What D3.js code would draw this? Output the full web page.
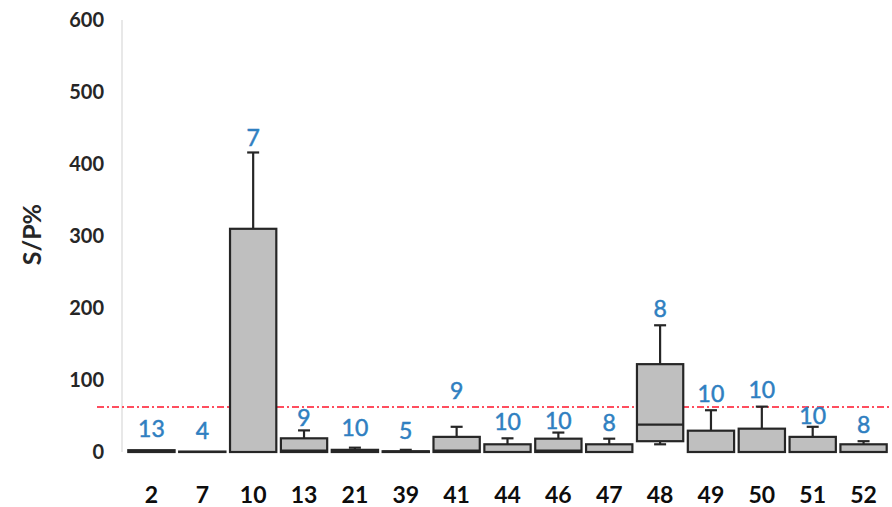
<!DOCTYPE html>
<html>
<head>
<meta charset="utf-8">
<script src="https://d3js.org/d3.v7.min.js"></script>
<style>
  body { margin: 0; background: #fff; }
  svg { display: block; }
</style>
</head>
<body>
<div id="chart"></div>
<script>
// groups on the x axis
const groups = ["2", "7", "10", "13", "21", "39", "41", "44", "46", "47", "48", "49", "50", "51", "52"];
// box plot values (S/P%)
const q1     = [0, 0, 0, 0, 0, 0, 0, 0, 0, 0, 15, 0, 0, 0, 0];
const median = [1, 0, 0, 1.8, 1.5, 0.5, 1.8, 0, 1.8, 0, 38, 0, 0, 0, 0];
const q3     = [2.5, 0.6, 310, 19, 3, 1, 21, 10.7, 18.5, 10.7, 122, 29.6, 32.4, 21, 10.7];
const whiskHi = [2.5, 0.6, 416, 30, 6, 3, 35, 19, 27, 18.5, 176, 58, 63, 35, 15];
const whiskLo = [0, 0, 0, 0, 0, 0, 0, 0, 0, 0, 10.7, 0, 0, 0, 0];
// sample counts shown in blue and the level where each sits
const counts  = [13, 4, 7, 9, 10, 5, 9, 10, 10, 8, 8, 10, 10, 10, 8];
const countAt = [21, 18.5, 425, 36, 22, 18, 74, 30.5, 32, 29.6, 187.5, 70, 75.4, 39, 26.4];
// cutoff line
const cutoff = 62.5;
const yTicks = [0, 100, 200, 300, 400, 500, 600];

const width = 892, height = 507;

const svg = d3.select("#chart")
  .append("svg")
    .attr("width", width)
    .attr("height", height);

const x = d3.scaleBand()
  .domain(groups)
  .range([126, 889])
  .paddingInner(0.09)
  .paddingOuter(0.045);

const y = d3.scaleLinear()
  .domain([0, 600])
  .range([452, 20]);

// y axis line
svg.append("line")
  .attr("x1", 122).attr("x2", 122)
  .attr("y1", y(600)).attr("y2", y(0))
  .attr("stroke", "#d9d9d9")
  .attr("stroke-width", 1.2);

// y tick labels
svg.append("g")
  .selectAll("text")
  .data(yTicks)
  .enter()
  .append("text")
    .attr("x", 104)
    .attr("y", d => y(d))
    .attr("dy", "0.36em")
    .attr("text-anchor", "end")
    .style("font-family", "Lato, 'Open Sans', sans-serif")
    .style("font-weight", "bold")
    .style("font-size", "20px")
    .style("fill", "#262626")
    .text(d => d);

// y axis title
svg.append("text")
  .attr("transform", `translate(41, ${y(302)}) rotate(-90)`)
  .attr("text-anchor", "middle")
  .style("font-family", "Lato, 'Open Sans', sans-serif")
  .style("font-weight", "bold")
  .style("font-size", "25px")
  .style("fill", "#262626")
  .text("S/P%");

// x labels
svg.append("g")
  .selectAll("text")
  .data(groups)
  .enter()
  .append("text")
    .attr("x", d => x(d) + x.bandwidth() / 2)
    .attr("y", 503)
    .attr("text-anchor", "middle")
    .style("font-family", "Lato, 'Open Sans', sans-serif")
    .style("font-weight", "bold")
    .style("font-size", "23px")
    .style("fill", "#0d0d0d")
    .text(d => d);

// cutoff line (behind the boxes)
svg.append("line")
  .attr("x1", 97).attr("x2", width)
  .attr("y1", y(cutoff)).attr("y2", y(cutoff))
  .attr("stroke", "#ff4d5e")
  .attr("stroke-width", 2)
  .attr("stroke-dasharray", "7,3,2,3");

const rows = groups.map((g, i) => ({
  g: g, q1: q1[i], med: median[i], q3: q3[i],
  hi: whiskHi[i], lo: whiskLo[i], n: counts[i], at: countAt[i]
}));

const stroke = "#262626";
const capW = 12;

const box = svg.append("g")
  .selectAll("g")
  .data(rows)
  .enter()
  .append("g");

// upper whiskers
box.filter(d => d.hi > d.q3)
  .append("line")
    .attr("x1", d => x(d.g) + x.bandwidth() / 2)
    .attr("x2", d => x(d.g) + x.bandwidth() / 2)
    .attr("y1", d => y(d.q3))
    .attr("y2", d => y(d.hi))
    .attr("stroke", stroke).attr("stroke-width", 2.2);
box.filter(d => d.hi > d.q3)
  .append("line")
    .attr("x1", d => x(d.g) + x.bandwidth() / 2 - capW / 2)
    .attr("x2", d => x(d.g) + x.bandwidth() / 2 + capW / 2)
    .attr("y1", d => y(d.hi))
    .attr("y2", d => y(d.hi))
    .attr("stroke", stroke).attr("stroke-width", 2.2);

// lower whiskers
box.filter(d => d.lo < d.q1)
  .append("line")
    .attr("x1", d => x(d.g) + x.bandwidth() / 2)
    .attr("x2", d => x(d.g) + x.bandwidth() / 2)
    .attr("y1", d => y(d.q1))
    .attr("y2", d => y(d.lo))
    .attr("stroke", stroke).attr("stroke-width", 2.2);
box.filter(d => d.lo < d.q1)
  .append("line")
    .attr("x1", d => x(d.g) + x.bandwidth() / 2 - capW / 2)
    .attr("x2", d => x(d.g) + x.bandwidth() / 2 + capW / 2)
    .attr("y1", d => y(d.lo))
    .attr("y2", d => y(d.lo))
    .attr("stroke", stroke).attr("stroke-width", 2.2);

// boxes
box.append("rect")
  .attr("x", d => x(d.g))
  .attr("width", x.bandwidth())
  .attr("y", d => y(d.q3))
  .attr("height", d => y(d.q1) - y(d.q3))
  .attr("fill", "#bfbfbf")
  .attr("stroke", stroke)
  .attr("stroke-width", 2.2);

// medians
box.append("line")
  .attr("x1", d => x(d.g))
  .attr("x2", d => x(d.g) + x.bandwidth())
  .attr("y1", d => y(d.med))
  .attr("y2", d => y(d.med))
  .attr("stroke", stroke)
  .attr("stroke-width", 2.2);

// counts
svg.append("g")
  .selectAll("text")
  .data(rows)
  .enter()
  .append("text")
    .attr("x", d => x(d.g) + x.bandwidth() / 2)
    .attr("y", d => y(d.at))
    .attr("text-anchor", "middle")
    .style("font-family", "Lato, 'Open Sans', sans-serif")
    .style("font-size", "23px")
    .style("fill", "#2f7fc1")
    .style("stroke", "#2f7fc1")
    .style("stroke-width", 0.5)
    .text(d => d.n);
</script>
</body>
</html>
